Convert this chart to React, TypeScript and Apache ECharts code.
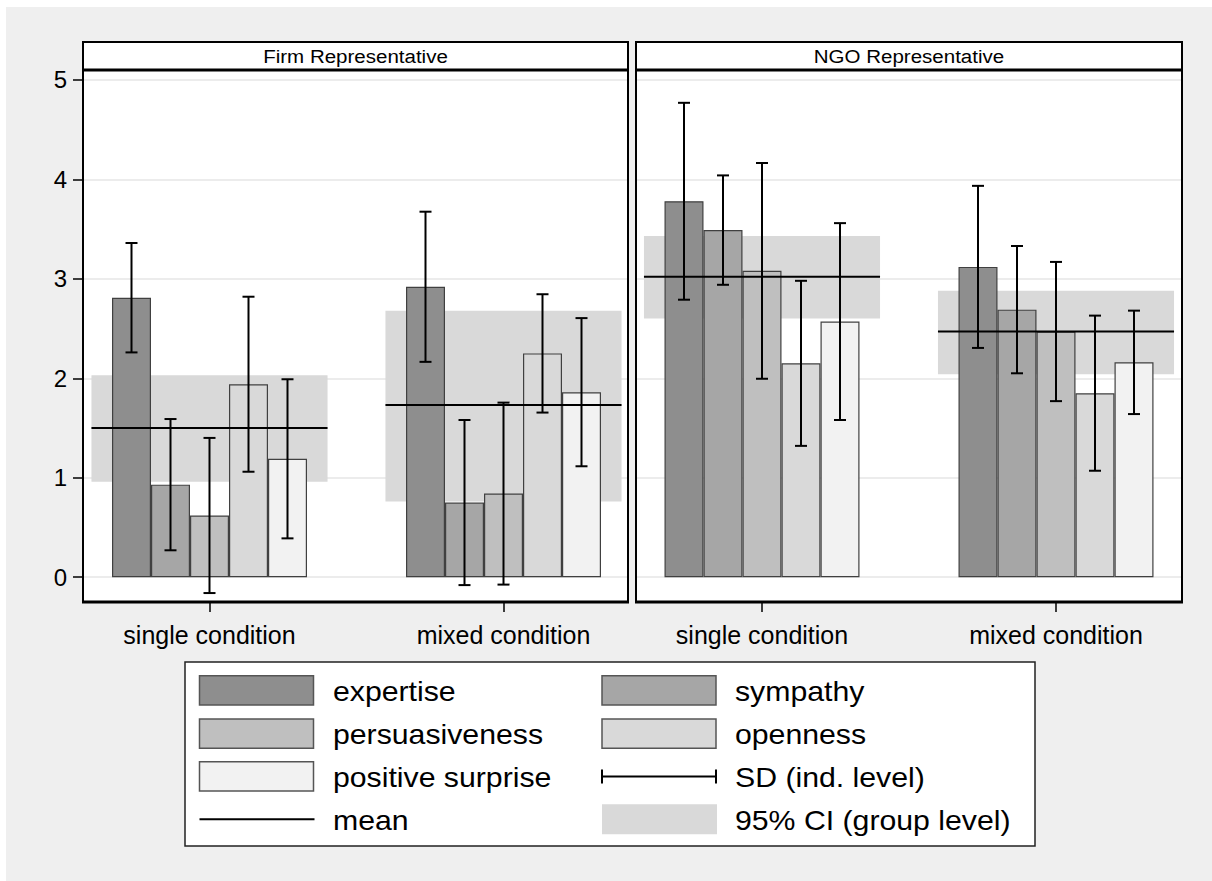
import React, { useEffect, useRef } from 'react';
import * as echarts from 'echarts';

const panels = ['Firm Representative', 'NGO Representative'];
const conditions = ['single condition', 'mixed condition'];
const measures = ['expertise', 'sympathy', 'persuasiveness', 'openness', 'positive surprise'];
const yTicks = [0, 1, 2, 3, 4, 5];

// bar heights (mean rating) per measure
const firmSingle = [2.81, 0.93, 0.62, 1.94, 1.19];
const firmMixed = [2.92, 0.75, 0.84, 2.25, 1.86];
const ngoSingle = [3.78, 3.49, 3.08, 2.15, 2.57];
const ngoMixed = [3.12, 2.69, 2.47, 1.85, 2.16];

// standard deviation (individual level) per measure
const firmSingleSd = [0.55, 0.66, 0.78, 0.88, 0.8];
const firmMixedSd = [0.755, 0.83, 0.915, 0.595, 0.745];
const ngoSingleSd = [0.99, 0.55, 1.085, 0.83, 0.99];
const ngoMixedSd = [0.815, 0.64, 0.7, 0.78, 0.52];

// group mean and 95% CI per condition [single, mixed]
const firmGroupMean = [1.5, 1.73];
const firmCiLow = [0.96, 0.76];
const firmCiHigh = [2.03, 2.68];
const ngoGroupMean = [3.02, 2.47];
const ngoCiLow = [2.6, 2.04];
const ngoCiHigh = [3.43, 2.88];

const barColors = ['#8e8e8e', '#a6a6a6', '#bfbfbf', '#d9d9d9', '#f2f2f2'];
const FONT = "'Liberation Sans', Arial, Helvetica, sans-serif";
const BAR_W = 39;
const CAP = 6;
const BAND_FRAC = 0.803;

const panelData = [
  { means: [firmSingle, firmMixed], sds: [firmSingleSd, firmMixedSd], gm: firmGroupMean, lo: firmCiLow, hi: firmCiHigh },
  { means: [ngoSingle, ngoMixed], sds: [ngoSingleSd, ngoMixedSd], gm: ngoGroupMean, lo: ngoCiLow, hi: ngoCiHigh },
];

// layout (pixels)
const TOP = 70;
const H = 532;
const frames = [
  { left: 83, width: 545 },
  { left: 636, width: 546 },
];
const barGrids = [
  { left: 62.5, width: 588 },
  { left: 615, width: 588 },
];

function buildOption() {
  const grid: any[] = [];
  const xAxis: any[] = [];
  const yAxis: any[] = [];
  const series: any[] = [];

  panels.forEach((_, p) => {
    const fi = p * 2;
    const bi = p * 2 + 1;
    // frame grid (gridlines, y labels)
    grid.push({ left: frames[p].left, top: TOP, width: frames[p].width, height: H, show: true, backgroundColor: '#ffffff', borderWidth: 0, z: 1 });
    // bar grid (category centres)
    grid.push({ left: barGrids[p].left, top: TOP, width: barGrids[p].width, height: H, show: false });
    xAxis.push({ gridIndex: fi, type: 'value', min: 0, max: 1, show: false });
    xAxis.push({
      gridIndex: bi,
      type: 'category',
      data: conditions,
      boundaryGap: true,
      z: 12,
      axisLine: { show: false, onZero: false },
      axisTick: { show: true, alignWithLabel: true, length: 10, lineStyle: { color: '#000', width: 1.5 } },
      axisLabel: { show: true, color: '#000', fontSize: 25, fontFamily: FONT, margin: 20 },
      splitLine: { show: false },
    });
    yAxis.push({
      gridIndex: fi,
      type: 'value',
      min: -0.25,
      max: 5.1,
      z: 2,
      axisLine: { show: false },
      axisTick: { show: p === 0, customValues: yTicks, length: 10, lineStyle: { color: '#000', width: 1.5 } },
      axisLabel: { show: p === 0, customValues: yTicks, color: '#000', fontSize: 24, fontFamily: FONT, margin: 16 },
      splitLine: { show: true, lineStyle: { color: '#e6e6e6', width: 1.5 } },
    });
    yAxis.push({ gridIndex: bi, type: 'value', min: -0.25, max: 5.1, show: false, splitLine: { show: false } });

    const d = panelData[p];
    // CI band
    series.push({
      type: 'custom',
      xAxisIndex: bi,
      yAxisIndex: bi,
      z: 3,
      silent: true,
      encode: { x: 0, y: [1, 2] },
      data: conditions.map((_, c) => [c, d.lo[c], d.hi[c]]),
      renderItem: (params: any, api: any) => {
        const cat = api.value(0);
        const a = api.coord([cat, api.value(1)]);
        const b = api.coord([cat, api.value(2)]);
        const w = api.size([1, 0])[0] * BAND_FRAC;
        return { type: 'rect', shape: { x: a[0] - w / 2, y: b[1], width: w, height: a[1] - b[1] }, style: { fill: '#d9d9d9' } };
      },
    });
    // bars
    measures.forEach((m, k) => {
      series.push({
        type: 'bar',
        name: m,
        xAxisIndex: bi,
        yAxisIndex: bi,
        z: 4,
        barWidth: BAR_W,
        barGap: '0%',
        itemStyle: { color: barColors[k], borderColor: '#404040', borderWidth: 1.2 },
        data: conditions.map((_, c) => d.means[c][k]),
      });
    });
    // mean line
    series.push({
      type: 'custom',
      xAxisIndex: bi,
      yAxisIndex: bi,
      z: 5,
      silent: true,
      encode: { x: 0, y: 1 },
      data: conditions.map((_, c) => [c, d.gm[c]]),
      renderItem: (params: any, api: any) => {
        const cat = api.value(0);
        const a = api.coord([cat, api.value(1)]);
        const w = api.size([1, 0])[0] * BAND_FRAC;
        return { type: 'line', shape: { x1: a[0] - w / 2, y1: a[1], x2: a[0] + w / 2, y2: a[1] }, style: { stroke: '#000', lineWidth: 2 } };
      },
    });
    // SD error bars
    const errData: any[] = [];
    conditions.forEach((_, c) => {
      measures.forEach((__, k) => {
        const mv = d.means[c][k];
        const sd = d.sds[c][k];
        errData.push([c, k, mv - sd, mv + sd]);
      });
    });
    series.push({
      type: 'custom',
      xAxisIndex: bi,
      yAxisIndex: bi,
      z: 6,
      silent: true,
      encode: { x: 0, y: [2, 3] },
      data: errData,
      renderItem: (params: any, api: any) => {
        const cat = api.value(0);
        const k = api.value(1);
        const a = api.coord([cat, api.value(2)]);
        const b = api.coord([cat, api.value(3)]);
        const x = a[0] + (k - (measures.length - 1) / 2) * BAR_W;
        const st = { stroke: '#000', lineWidth: 2 };
        return {
          type: 'group',
          children: [
            { type: 'line', shape: { x1: x, y1: a[1], x2: x, y2: b[1] }, style: st },
            { type: 'line', shape: { x1: x - CAP, y1: a[1], x2: x + CAP, y2: a[1] }, style: st },
            { type: 'line', shape: { x1: x - CAP, y1: b[1], x2: x + CAP, y2: b[1] }, style: st },
          ],
        };
      },
    });
  });

  // graphics: background, frames, headers, legend
  const graphic: any[] = [];
  graphic.push({ type: 'rect', z: 0, silent: true, shape: { x: 6, y: 7, width: 1212 - 6, height: 881 - 7 }, style: { fill: '#efefef' } });
  panels.forEach((name, p) => {
    const f = frames[p];
    graphic.push({ type: 'rect', z: 10, silent: true, shape: { x: f.left, y: 42, width: f.width, height: 28 }, style: { fill: '#ffffff', stroke: '#000', lineWidth: 2 } });
    graphic.push({ type: 'rect', z: 10, silent: true, shape: { x: f.left, y: TOP, width: f.width, height: H }, style: { fill: 'none', stroke: '#000', lineWidth: 2 } });
    graphic.push({ type: 'line', z: 11, silent: true, shape: { x1: f.left, y1: TOP, x2: f.left + f.width, y2: TOP }, style: { stroke: '#000', lineWidth: 3 } });
    graphic.push({ type: 'line', z: 11, silent: true, shape: { x1: f.left - 1, y1: TOP + H, x2: f.left + f.width + 1, y2: TOP + H }, style: { stroke: '#000', lineWidth: 3 } });
    graphic.push({
      type: 'text', z: 12, silent: true, x: f.left + f.width / 2, y: 56.5, scaleX: 1.08,
      style: { text: name, fontSize: 19, fontFamily: FONT, fill: '#000', textAlign: 'center', textVerticalAlign: 'middle', verticalAlign: 'middle' },
    });
  });

  // legend
  graphic.push({ type: 'rect', z: 10, silent: true, shape: { x: 185, y: 662, width: 850, height: 184 }, style: { fill: '#ffffff', stroke: '#222', lineWidth: 1.5 } });
  const rowY = [690.3, 733.6, 776.4, 819.2];
  const cols = [
    { sx: 199.5, tx: 333 },
    { sx: 602, tx: 735 },
  ];
  const SW = 114;
  const SH = 29.3;
  const legendItems = [
    { col: 0, row: 0, kind: 'bar', k: 0, label: measures[0] },
    { col: 1, row: 0, kind: 'bar', k: 1, label: measures[1] },
    { col: 0, row: 1, kind: 'bar', k: 2, label: measures[2] },
    { col: 1, row: 1, kind: 'bar', k: 3, label: measures[3] },
    { col: 0, row: 2, kind: 'bar', k: 4, label: measures[4] },
    { col: 1, row: 2, kind: 'sd', k: -1, label: 'SD (ind. level)' },
    { col: 0, row: 3, kind: 'mean', k: -1, label: 'mean' },
    { col: 1, row: 3, kind: 'ci', k: -1, label: '95% CI (group level)' },
  ];
  legendItems.forEach((it) => {
    const c = cols[it.col];
    const cy = rowY[it.row];
    if (it.kind === 'bar') {
      graphic.push({ type: 'rect', z: 11, silent: true, shape: { x: c.sx, y: cy - SH / 2, width: SW, height: SH }, style: { fill: barColors[it.k], stroke: '#555', lineWidth: 1.5 } });
    } else if (it.kind === 'ci') {
      graphic.push({ type: 'rect', z: 11, silent: true, shape: { x: c.sx, y: cy - 15, width: SW + 1, height: 30 }, style: { fill: '#d9d9d9' } });
    } else if (it.kind === 'mean') {
      graphic.push({ type: 'line', z: 11, silent: true, shape: { x1: c.sx, y1: cy, x2: c.sx + SW + 1, y2: cy }, style: { stroke: '#000', lineWidth: 2 } });
    } else {
      const st = { stroke: '#000', lineWidth: 2 };
      graphic.push({ type: 'line', z: 11, silent: true, shape: { x1: c.sx, y1: cy, x2: c.sx + SW, y2: cy }, style: st });
      graphic.push({ type: 'line', z: 11, silent: true, shape: { x1: c.sx, y1: cy - 7, x2: c.sx, y2: cy + 7 }, style: st });
      graphic.push({ type: 'line', z: 11, silent: true, shape: { x1: c.sx + SW, y1: cy - 7, x2: c.sx + SW, y2: cy + 7 }, style: st });
    }
    graphic.push({
      type: 'text', z: 12, silent: true, x: c.tx, y: cy + 1, scaleX: 1.08,
      style: { text: it.label, fontSize: 28, fontFamily: FONT, fill: '#000', textAlign: 'left', textVerticalAlign: 'middle', verticalAlign: 'middle' },
    });
  });

  return {
    animation: false,
    backgroundColor: '#ffffff',
    grid,
    xAxis,
    yAxis,
    series,
    graphic: { elements: graphic },
  };
}

export default function App() {
  const ref = useRef<HTMLDivElement>(null);
  useEffect(() => {
    if (!ref.current) return;
    const chart = echarts.init(ref.current, undefined, { renderer: 'svg' });
    chart.setOption(buildOption() as any);
    return () => chart.dispose();
  }, []);
  return <div ref={ref} style={{ position: 'absolute', left: 0, top: 0, width: 1212, height: 881 }} />;
}
